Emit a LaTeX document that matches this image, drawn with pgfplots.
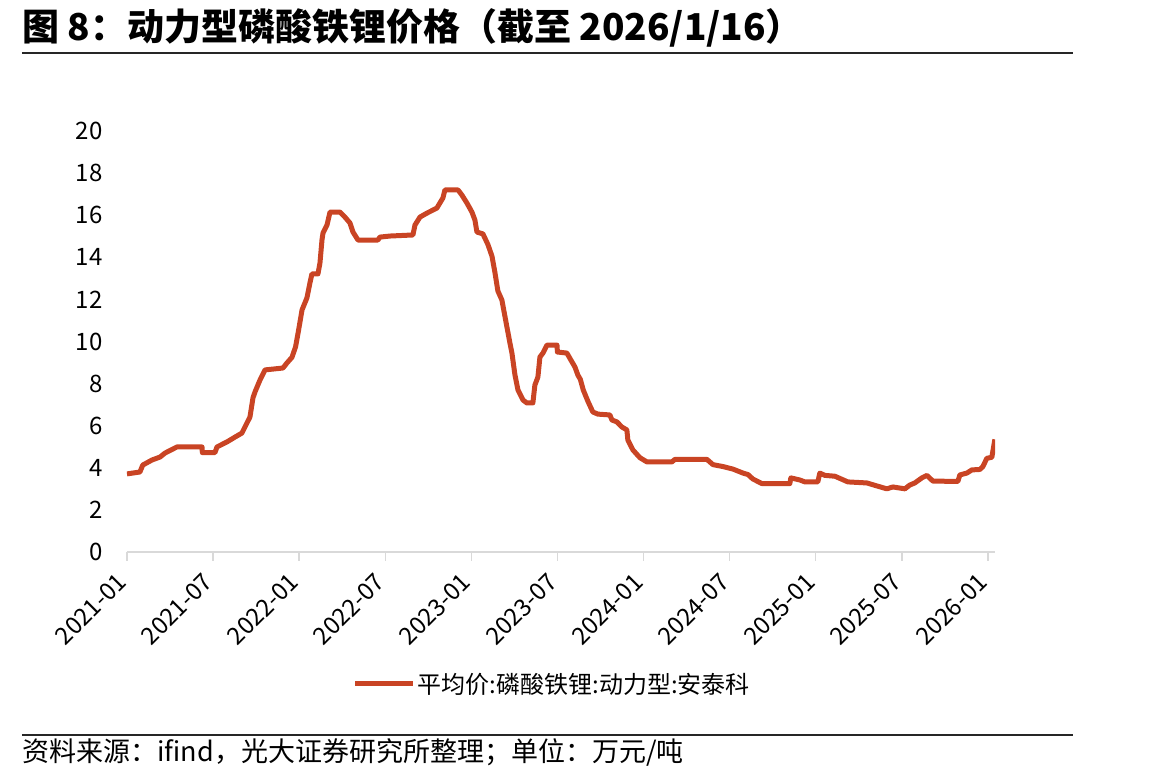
\documentclass[border=0pt]{standalone}
\usepackage{fontspec}
\setmainfont{Noto Sans CJK SC}
\usepackage{pgfplots}
\pgfplotsset{compat=1.18}
\definecolor{lfpred}{RGB}{201,68,36}
\definecolor{axisgray}{RGB}{217,217,217}
\begin{document}
\begin{tikzpicture}
\begin{axis}[
  name=ax, at={(0pt,0pt)}, anchor=origin,
  scale only axis, width=868pt, height=421pt,
  xmin=0, xmax=60.5, ymin=0, ymax=20,
  axis x line*=bottom, axis y line*=left,
  x axis line style={-,draw=axisgray,line width=1.5pt},
  y axis line style={draw=none},
  xtick={0,6,...,60},
  xticklabels={2021-01,2021-07,2022-01,2022-07,2023-01,2023-07,2024-01,2024-07,2025-01,2025-07,2026-01},
  ytick={0,2,...,20},
  tick align=outside, major tick length=9pt,
  xtick style={draw=axisgray,line width=1.5pt},
  ytick style={draw=none},
  /pgf/number format/assume math mode=true,
  every tick label/.append style={font=\fontsize{24}{26}\selectfont},
  xticklabel style={rotate=45,anchor=north east,xshift=-12pt,yshift=4pt},
  yticklabel style={xshift=-12pt},
  legend style={at={(0.49,-0.313)},anchor=center,draw=none,fill=none,
    font=\fontsize{24}{26}\selectfont},
  legend image code/.code={\draw[line width=5pt,#1] (0pt,0pt) -- (58pt,0pt);},
]
\addplot[lfpred,line width=5pt,line join=round] coordinates {
(0.00,3.71) (0.90,3.80) (1.10,4.13) (1.74,4.37) (2.30,4.51) (2.65,4.70)
(3.48,4.99) (5.23,4.99) (5.25,4.72) (6.13,4.72) (6.27,4.99) (6.97,5.23)
(7.53,5.46) (8.01,5.65) (8.36,6.13) (8.57,6.41) (8.78,7.32) (8.92,7.60)
(9.27,8.17) (9.62,8.65) (10.87,8.74) (11.15,8.98) (11.50,9.25) (11.75,9.75)
(11.95,10.50) (12.20,11.50) (12.54,12.07) (12.75,12.78) (12.89,13.21) (13.31,13.21)
(13.45,13.73) (13.59,14.82) (13.66,15.15) (13.94,15.53) (14.15,16.15) (14.84,16.15)
(15.19,15.91) (15.54,15.63) (15.75,15.20) (16.10,14.82) (17.49,14.82) (17.63,14.96)
(18.33,15.01) (19.93,15.06) (20.07,15.53) (20.42,15.91) (20.91,16.10) (21.60,16.34)
(22.02,16.82) (22.16,17.20) (23.07,17.20) (23.34,16.96) (23.69,16.58) (24.04,16.15)
(24.25,15.77) (24.39,15.20) (24.81,15.11) (25.16,14.60) (25.44,14.05) (25.64,13.30)
(25.85,12.40) (26.13,11.97) (26.48,10.69) (26.69,9.93) (26.83,9.45) (27.04,8.41)
(27.25,7.70) (27.60,7.22) (27.87,7.08) (28.29,7.08) (28.43,7.93) (28.64,8.31)
(28.78,9.26) (28.99,9.45) (29.27,9.83) (29.97,9.83) (30.00,9.50) (30.66,9.45)
(30.87,9.20) (31.22,8.79) (31.43,8.40) (31.60,8.20) (31.80,7.70) (32.13,7.15)
(32.47,6.65) (32.82,6.55) (33.66,6.51) (33.80,6.27) (34.15,6.18) (34.49,5.94)
(34.84,5.80) (34.91,5.32) (35.26,4.85) (35.75,4.48) (36.24,4.28) (37.98,4.28)
(38.19,4.40) (40.42,4.40) (40.84,4.15) (41.53,4.06) (42.23,3.94) (42.93,3.75)
(43.28,3.68) (43.62,3.47) (44.25,3.25) (46.20,3.25) (46.27,3.52) (46.90,3.42)
(47.25,3.33) (48.15,3.33) (48.29,3.75) (48.64,3.64) (49.34,3.60) (50.24,3.33)
(51.57,3.28) (52.26,3.14) (52.96,3.00) (53.38,3.09) (54.22,3.00) (54.56,3.18)
(54.91,3.28) (55.40,3.52) (55.75,3.64) (56.17,3.37) (57.91,3.35) (58.05,3.66)
(58.54,3.75) (58.89,3.90) (59.44,3.92) (59.65,4.05) (59.93,4.45) (60.28,4.50)
(60.49,5.35)
};
\addlegendentry{平均价:磷酸铁锂:动力型:安泰科}
\end{axis}
% heading, source note and rules, laid out from the lower left corner of the plot area
\begin{scope}[shift={(ax.south west)},x=1pt,y=1pt,shift={(-127,-231)}]
\node[anchor=west,inner sep=0pt,font=\fontsize{37}{40}\selectfont\bfseries] at (22,755) {图 8：动力型磷酸铁锂价格（截至 2026/1/16）};
\draw[line width=2.5pt,black!85] (22,730) -- (1073,730);
\draw[line width=2pt,black!85] (22,48) -- (1073,48);
\node[anchor=west,inner sep=0pt,font=\fontsize{27}{30}\selectfont] at (22,31) {资料来源：ifind，光大证券研究所整理；单位：万元/吨};
\pgfresetboundingbox
\path (0,0) rectangle (1151,783);
\end{scope}
\end{tikzpicture}
\end{document}
